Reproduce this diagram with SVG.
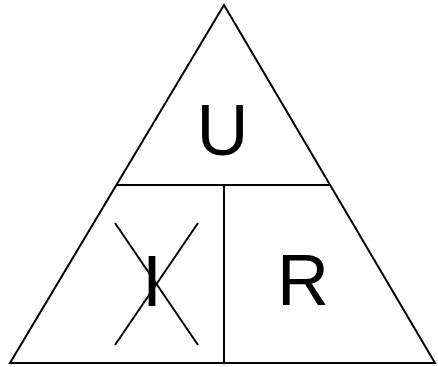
<svg xmlns="http://www.w3.org/2000/svg" width="438" height="367" viewBox="0 0 438 367">
<style>
.ln{stroke:#000;stroke-width:2;fill:none;stroke-linejoin:miter}
.t{font-family:"Liberation Sans",Arial,sans-serif;font-size:72px;fill:#000;text-anchor:middle}
</style>
<rect width="438" height="367" fill="#fff"/>
<g id="triangle">
<polygon class="ln" points="224,5 435,363 10,363"/>
<line class="ln" x1="116" y1="185" x2="330" y2="185"/>
<line class="ln" x1="224" y1="185" x2="224" y2="363"/>
</g>
<g id="U"><text class="t" x="222.5" y="155">U</text></g>
<g id="I">
<text class="t" x="152" y="306">I</text>
<line class="ln" x1="115" y1="223" x2="198" y2="345"/>
<line class="ln" x1="198" y1="223" x2="115" y2="345"/>
</g>
<g id="R"><text class="t" x="303" y="305">R</text></g>
</svg>
